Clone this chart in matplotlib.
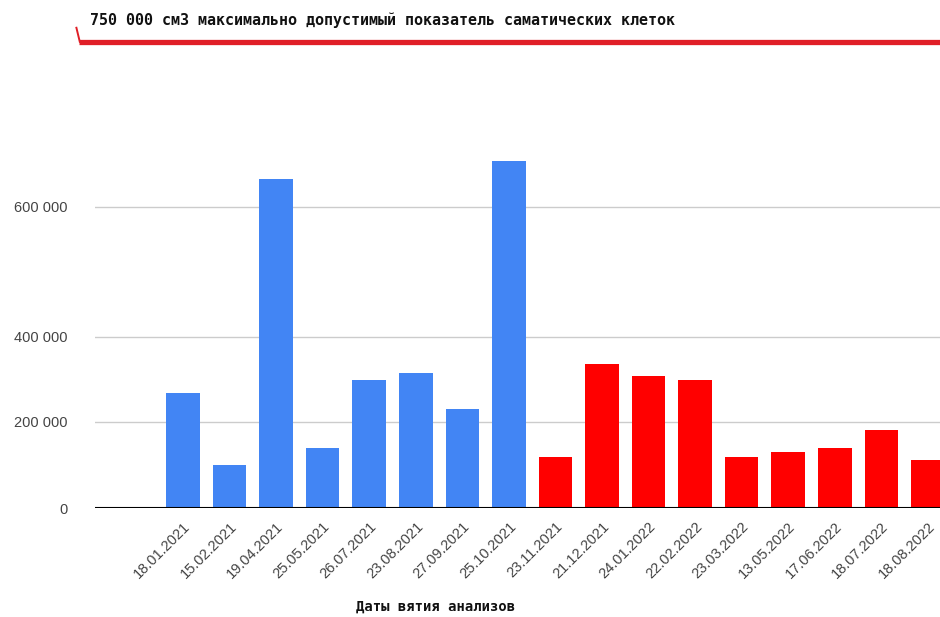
import matplotlib.pyplot as plt
import numpy as np
from matplotlib.ticker import FuncFormatter

# analysis dates and somatic cell counts
dates = ['18.01.2021', '15.02.2021', '19.04.2021', '25.05.2021', '26.07.2021',
         '23.08.2021', '27.09.2021', '25.10.2021', '23.11.2021', '21.12.2021',
         '24.01.2022', '22.02.2022', '23.03.2022', '13.05.2022', '17.06.2022',
         '18.07.2022', '18.08.2022']
cells = [267000, 100000, 625000, 140000, 298000, 316000, 230000, 642000,
         119000, 337000, 309000, 298000, 119000, 130000, 140000, 181000, 112000]
n_blue = 8            # first period drawn in blue, the rest in red
limit = 750000        # max allowed value
limit_text = '750 000 см3 максимально допустимый показатель саматических клеток'
x_title = 'Даты вятия анализов'
y_ticks = [0, 200000, 400000, 600000]

# uneven vertical axis: value -> height
knot_v = np.array([0, 200000, 400000, 600000, 750000, 800000])
knot_h = np.array([0, 86, 171, 301, 466, 520])


def fwd(v):
    return np.interp(v, knot_v, knot_h)


def inv(h):
    return np.interp(h, knot_h, knot_v)


W, H = 940, 617
fig = plt.figure(figsize=(W / 100, H / 100), dpi=100)
ax = fig.add_axes([95 / W, (H - 508) / H, 845 / W, 477 / H])
ax.set_yscale('function', functions=(fwd, inv))

blue, red = '#4285F4', '#FF0000'
colors = [blue if i < n_blue else red for i in range(len(dates))]
x = np.arange(len(dates))
ax.bar(x, cells, width=0.72, color=colors, zorder=3)

ax.set_xlim(-1.89, 16.26)
ax.set_ylim(0, 760000)

# gridlines and baseline
for v in y_ticks[1:]:
    ax.axhline(v, color='#cccccc', lw=1, zorder=1)
ax.axhline(0, color='black', lw=1.5, zorder=4)

# limit line with a thin hook at the left end
lim_col = '#e01f27'
ax.plot([-0.019, 1.0], [limit, limit], color=lim_col, lw=3.8,
        transform=ax.get_yaxis_transform(), clip_on=False, solid_capstyle='butt',
        zorder=5)
ax.plot([-0.022, -0.018], [763000, limit], color=lim_col, lw=1.4,
        transform=ax.get_yaxis_transform(), clip_on=False, zorder=5)

for s in ax.spines.values():
    s.set_visible(False)

ax.set_yticks(y_ticks)
ax.yaxis.set_major_formatter(FuncFormatter(lambda v, p: f'{int(v):,}'.replace(',', ' ')))
ax.set_xticks(x)
ax.set_xticklabels(dates, rotation=45, ha='right', rotation_mode='anchor')
ax.tick_params(axis='y', length=0, pad=20, labelsize=10.5, labelcolor='#444444')
ax.tick_params(axis='x', length=0, pad=8, labelsize=10.5, labelcolor='#444444')
for lbl in ax.get_xticklabels() + ax.get_yticklabels():
    lbl.set_family('Liberation Sans')

fig.text(90 / W, 1 - 20 / H, limit_text, family='DejaVu Sans Mono', weight='bold',
         size=10.8, va='center', ha='left', color='#111111')
fig.text(436 / W, 1 - 607 / H, x_title, family='DejaVu Sans Mono', weight='bold',
         size=10, va='center', ha='center', color='#111111')

fig.savefig('out.png', dpi=100, facecolor='white')
